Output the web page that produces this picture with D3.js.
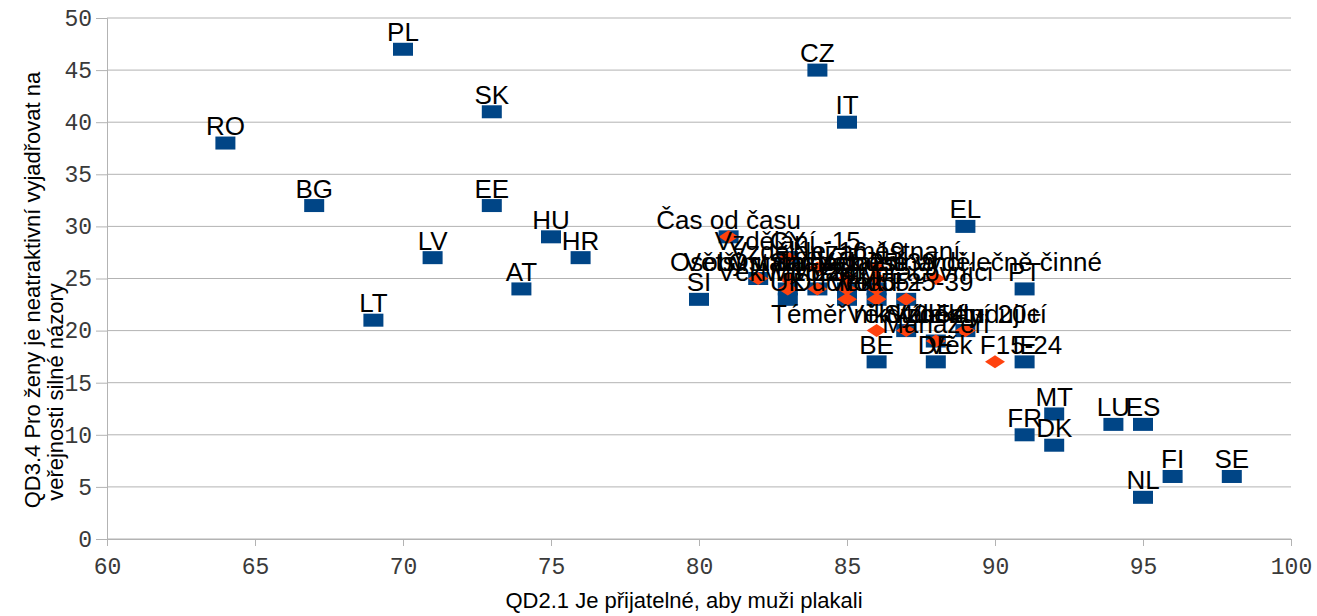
<!DOCTYPE html>
<html lang="cs">
<head>
<meta charset="UTF-8">
<title>QD2.1 vs QD3.4</title>
<script src="https://d3js.org/d3.v7.min.js"></script>
<style>
  body { margin: 0; background: #fff; }
  .tick text { font-family: "Liberation Mono", "DejaVu Sans Mono", monospace; font-size: 23px; fill: #3a3a3a; }
  .lbl { font-family: "Liberation Sans", Arial, sans-serif; font-size: 26px; fill: #000; }
  .title { font-family: "Liberation Sans", Arial, sans-serif; font-size: 22px; fill: #000; }
</style>
</head>
<body>
<div id="chart"></div>
<script>
// countries (blue squares)
const countryNames = ["RO","PL","SK","BG","EE","LV","LT","HU","HR","AT","SI","CZ","IT","EL","PT","BE","DE","IE","MT","FR","DK","LU","ES","FI","SE","NL","CY","UK"];
const countryX = [64,70,73,67,73,71,69,75,76,74,80,84,85,89,91,86,88,91,92,91,92,94,95,96,98,95,83,83];
const countryY = [38,47,41,32,32,27,21,29,27,24,23,45,40,30,24,17,17,17,12,10,9,11,11,6,6,4,27,23];

// socio-demographic groups (orange diamonds)
const groupNames = ["Čas od času","Vzdělání -15","Většinu času","Vzdělání 16-19","Osoby v domácnosti","Věk M15-24","Muži","Ženy","Ostatní zaměstnanci","Manuální pracovníci","Nezaměstnaní","Důchodci","Věk 55+","Věk F25-39","Věk 25-39","Samostatně výdělečně činné","Téměř nikdy/nikdy","Věk 40-54","Manažeři","Vzdělání 20+","Stále studující","Věk F15-24"];
const groupX = [81,83,82,84,83,83,84,85,85,86,86,85,86,87,86,88,86,87,88,89,89,90];
const groupY = [29,27,25,26,25,24,24,24,25,24,26,23,23,23,25,25,20,20,19,20,20,17];
// groups that also sit in the first (all rows) series
const groupInAll = [1,1,1,0,0,1,1,1,0,1,0,1,1,1,0,0,0,1,1,1,0,0];

const xTicks = [60,65,70,75,80,85,90,95,100];
const yTicks = [0,5,10,15,20,25,30,35,40,45,50];
const xTitle = "QD2.1 Je přijatelné, aby muži plakali";
const yTitle = ["QD3.4 Pro ženy je neatraktivní vyjadřovat na", "veřejnosti silné názory"];

const W = 1317, H = 616;
const svg = d3.select("#chart").append("svg")
  .attr("width", W).attr("height", H);

const x = d3.scaleLinear().domain([60, 100]).range([107, 1291]);
const y = d3.scaleLinear().domain([0, 50]).range([539, 18]);

// horizontal grid
svg.append("g")
  .selectAll("line")
  .data(yTicks)
  .join("line")
    .attr("x1", x(60)).attr("x2", x(100))
    .attr("y1", d => y(d)).attr("y2", d => y(d))
    .attr("stroke", "#b3b3b3").attr("stroke-width", 1);

// y axis
const gy = svg.append("g")
  .attr("transform", "translate(" + x(60) + ",0)")
  .call(d3.axisLeft(y).tickValues(yTicks).tickSize(11).tickPadding(4));
gy.select(".domain").attr("stroke", "#b3b3b3");
gy.selectAll(".tick line").attr("stroke", "#b3b3b3");

// x axis
const gx = svg.append("g")
  .attr("transform", "translate(0," + y(0) + ")")
  .call(d3.axisBottom(x).tickValues(xTicks).tickSize(7).tickPadding(8));
gx.select(".domain").attr("stroke", "#b3b3b3");
gx.selectAll(".tick line").attr("stroke", "#b3b3b3");
gx.selectAll(".tick text").attr("dy", "0.85em");

// blue series: countries + groups in all rows
const blue = countryNames.map((n, i) => ({x: countryX[i], y: countryY[i]}))
  .concat(groupNames.map((n, i) => ({x: groupX[i], y: groupY[i], keep: groupInAll[i]})).filter(d => d.keep));

svg.append("g")
  .selectAll("rect")
  .data(blue)
  .join("rect")
    .attr("x", d => x(d.x) - 10)
    .attr("y", d => y(d.y) - 6.5)
    .attr("width", 20).attr("height", 13)
    .attr("fill", "#004586");

// orange diamonds
svg.append("g")
  .selectAll("path")
  .data(groupNames.map((n, i) => ({x: groupX[i], y: groupY[i]})))
  .join("path")
    .attr("d", d => {
      const cx = x(d.x), cy = y(d.y);
      return "M" + (cx - 10) + "," + cy + "L" + cx + "," + (cy - 6.5) + "L" + (cx + 10) + "," + cy + "L" + cx + "," + (cy + 6.5) + "Z";
    })
    .attr("fill", "#ff420e");

// labels
const labels = countryNames.map((n, i) => ({t: n, x: countryX[i], y: countryY[i]}))
  .concat(groupNames.map((n, i) => ({t: n, x: groupX[i], y: groupY[i]})));

svg.append("g")
  .selectAll("text")
  .data(labels)
  .join("text")
    .attr("class", "lbl")
    .attr("x", d => x(d.x))
    .attr("y", d => y(d.y) - 8)
    .attr("text-anchor", "middle")
    .text(d => d.t);

// axis titles
svg.append("text")
  .attr("class", "title")
  .attr("x", 684).attr("y", 608)
  .attr("text-anchor", "middle")
  .text(xTitle);

svg.append("text")
  .attr("class", "title")
  .attr("transform", "translate(40,290) rotate(-90)")
  .attr("text-anchor", "middle")
  .text(yTitle[0]);

svg.append("text")
  .attr("class", "title")
  .attr("transform", "translate(63,392) rotate(-90)")
  .attr("text-anchor", "middle")
  .text(yTitle[1]);
</script>
</body>
</html>
